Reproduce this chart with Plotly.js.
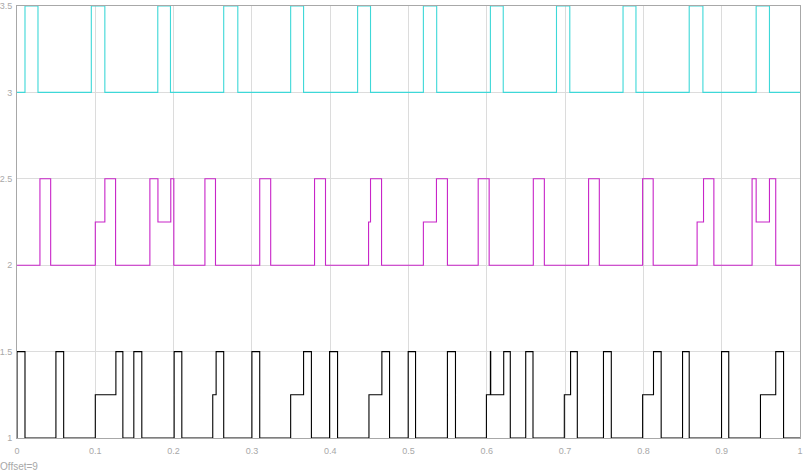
<!DOCTYPE html>
<html>
<head>
<meta charset="utf-8">
<script src="https://cdn.plot.ly/plotly-3.0.1.min.js"></script>
<style>html,body{margin:0;padding:0;background:#fff;}#chart{width:812px;height:474px;}</style>
</head>
<body>
<div id="chart"></div>
<script>
// Signal 1 (cyan), step times and levels
const cyanT = [0, 0.0102, 0.0268, 0.0949, 0.1122, 0.1798, 0.196, 0.264, 0.282, 0.3495, 0.366, 0.435, 0.4515, 0.519, 0.536, 0.6046, 0.621, 0.689, 0.706, 0.774, 0.7905, 0.8585, 0.876, 0.944, 0.961, 1];
const cyanY = [3, 3.5, 3, 3.5, 3, 3.5, 3, 3.5, 3, 3.5, 3, 3.5, 3, 3.5, 3, 3.5, 3, 3.5, 3, 3.5, 3, 3.5, 3, 3.5, 3, 3];

// Signal 2 (magenta)
const magT = [0, 0.0293, 0.043, 0.1, 0.1122, 0.1259, 0.1697, 0.18, 0.1964, 0.2003, 0.24, 0.2535, 0.31, 0.324, 0.38, 0.394, 0.449, 0.4515, 0.4656, 0.519, 0.5357, 0.5497, 0.589, 0.603, 0.6594, 0.6735, 0.73, 0.7437, 0.799, 0.8125, 0.8686, 0.8768, 0.89, 0.9388, 0.944, 0.961, 0.969, 1];
const magY = [2, 2.5, 2, 2.25, 2.5, 2, 2.5, 2.25, 2.5, 2, 2.5, 2, 2.5, 2, 2.5, 2, 2.25, 2.5, 2, 2.25, 2.5, 2, 2.5, 2, 2.5, 2, 2.5, 2, 2.5, 2, 2.25, 2.5, 2, 2.5, 2.25, 2.5, 2, 2];

// Signal 3 (black)
const blkT = [0, 0, 0.0102, 0.0497, 0.0596, 0.1, 0.1263, 0.1352, 0.1492, 0.1594, 0.2007, 0.2105, 0.25, 0.2543, 0.264, 0.3, 0.31, 0.3495, 0.366, 0.376, 0.3992, 0.4094, 0.4495, 0.466, 0.4758, 0.4996, 0.509, 0.5497, 0.56, 0.5995, 0.6046, 0.6050, 0.6216, 0.63, 0.6497, 0.659, 0.699, 0.707, 0.7156, 0.749, 0.759, 0.799, 0.8129, 0.8227, 0.85, 0.8585, 0.8998, 0.909, 0.9495, 0.969, 0.979, 1];
const blkY = [1, 1.5, 1, 1.5, 1, 1.25, 1.5, 1, 1.5, 1, 1.5, 1, 1.25, 1.5, 1, 1.5, 1, 1.25, 1.5, 1, 1.5, 1, 1.25, 1.5, 1, 1.5, 1, 1.5, 1, 1.25, 1.5, 1.25, 1.5, 1, 1.5, 1, 1.25, 1.5, 1, 1.5, 1, 1.25, 1.5, 1, 1.5, 1, 1.5, 1, 1.25, 1.5, 1, 1];

const xTicks = [0, 0.1, 0.2, 0.3, 0.4, 0.5, 0.6, 0.7, 0.8, 0.9, 1];
const xTickText = ['0', '0.1', '0.2', '0.3', '0.4', '0.5', '0.6', '0.7', '0.8', '0.9', '1'];
const yTicks = [1, 1.5, 2, 2.5, 3, 3.5];
const yTickText = ['1', '1.5', '2', '2.5', '3', '3.5'];
const offsetLabel = 'Offset=9';

const traces = [
  {x: cyanT, y: cyanY, mode: 'lines', line: {shape: 'hv', color: '#3ed8d8', width: 1.1}, hoverinfo: 'none'},
  {x: magT, y: magY, mode: 'lines', line: {shape: 'hv', color: '#c825c8', width: 1.1}, hoverinfo: 'none'},
  {x: blkT, y: blkY, mode: 'lines', line: {shape: 'hv', color: '#000000', width: 1.1}, hoverinfo: 'none'}
];

const axisFont = {family: 'Liberation Sans, Arial, sans-serif', size: 9, color: '#a8a8a8'};

const layout = {
  width: 812, height: 474,
  margin: {l: 17, r: 12, t: 6, b: 36, pad: 0},
  paper_bgcolor: '#ffffff', plot_bgcolor: '#ffffff',
  showlegend: false,
  xaxis: {
    range: [0, 1], tickvals: xTicks, ticktext: xTickText,
    showgrid: true, gridcolor: '#dcdcdc', gridwidth: 1,
    zeroline: false, showline: true, linecolor: '#a8a8a8', linewidth: 1, mirror: true,
    ticks: '', tickfont: axisFont, ticklabelstandoff: 4
  },
  yaxis: {
    range: [1, 3.5], tickvals: yTicks, ticktext: yTickText,
    showgrid: true, gridcolor: '#dcdcdc', gridwidth: 1,
    zeroline: false, showline: true, linecolor: '#a8a8a8', linewidth: 1, mirror: true,
    ticks: '', tickfont: axisFont, ticklabelstandoff: 2
  },
  annotations: [{
    text: offsetLabel, xref: 'paper', yref: 'paper', x: 0, y: 0,
    xanchor: 'left', yanchor: 'middle', xshift: -19, yshift: -28,
    showarrow: false, font: {family: 'Liberation Sans, Arial, sans-serif', size: 10, color: '#a8a8a8'}
  }]
};

Plotly.newPlot('chart', traces, layout, {displayModeBar: false, staticPlot: true});
</script>
</body>
</html>
